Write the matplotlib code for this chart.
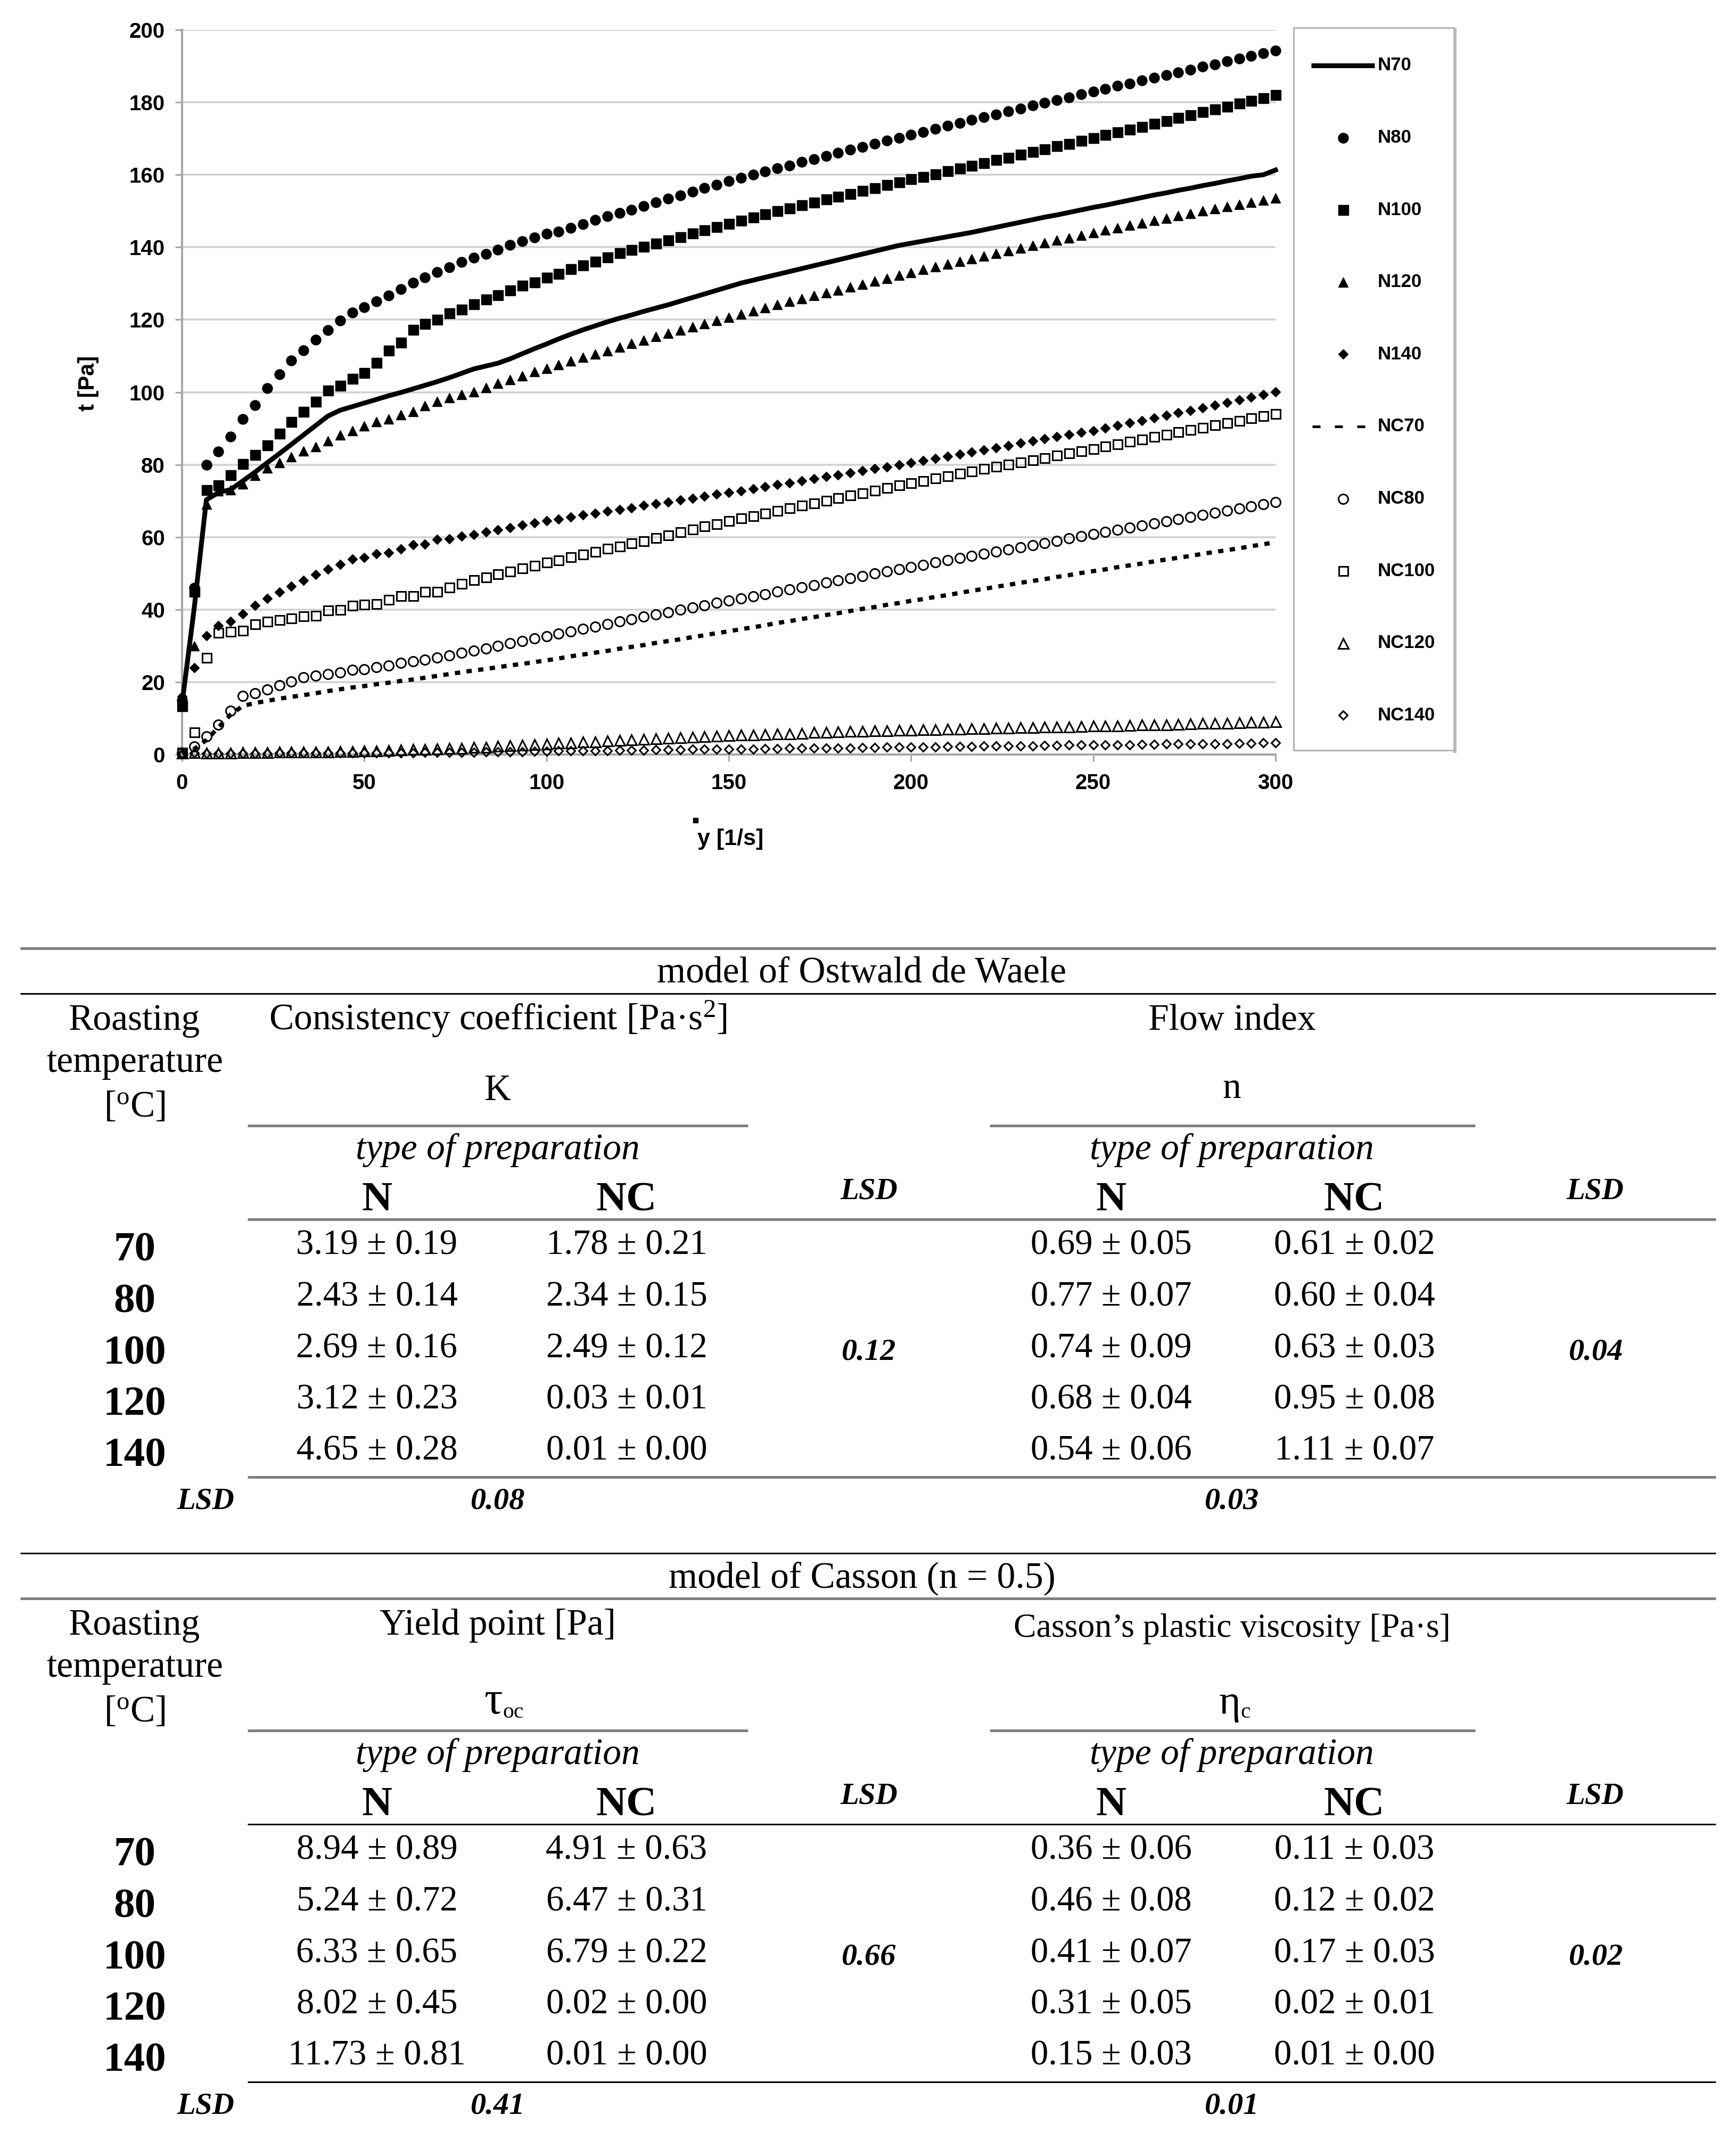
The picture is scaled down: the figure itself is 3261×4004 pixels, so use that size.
import numpy as np
import matplotlib
matplotlib.use("Agg")
import matplotlib.pyplot as plt
from matplotlib.patches import Rectangle

W, H = 3262, 4004
DPI = 100


def pt(px):
    # pixel size -> points at this dpi
    return px * 72.0 / DPI


plt.rcParams['font.family'] = ['Liberation Sans', 'DejaVu Sans']
plt.rcParams['mathtext.fontset'] = 'custom'
plt.rcParams['mathtext.rm'] = 'Liberation Serif'
plt.rcParams['mathtext.it'] = 'Liberation Serif:italic'
plt.rcParams['mathtext.bf'] = 'Liberation Serif:bold'

# ---------------- chart data ----------------
shear_rate = np.linspace(0, 300, 91)

N70 = [14.0, 40.4, 70.3, 72.3, 73.1, 75.5, 77.9, 80.5, 83.0, 85.6,
       88.2, 90.8, 93.4, 95.0, 96.0, 97.0, 98.0, 99.0, 99.9, 100.9,
       101.9, 102.9, 104.0, 105.2, 106.4, 107.2, 108.0, 109.2, 110.6, 112.0,
       113.3, 114.7, 116.0, 117.2, 118.3, 119.4, 120.4, 121.3, 122.3, 123.2,
       124.1, 125.1, 126.1, 127.1, 128.1, 129.1, 130.1, 130.9, 131.7, 132.5,
       133.3, 134.1, 134.9, 135.7, 136.5, 137.3, 138.1, 138.9, 139.7, 140.5,
       141.1, 141.7, 142.3, 142.9, 143.5, 144.1, 144.8, 145.5, 146.2, 146.9,
       147.6, 148.3, 148.9, 149.6, 150.3, 151.0, 151.6, 152.3, 153.0, 153.7,
       154.4, 155.0, 155.7, 156.3, 157.0, 157.6, 158.3, 158.9, 159.6, 160.0,
       161.3]
N80 = [15.0, 46.0, 80.0, 83.6, 87.8, 92.6, 96.4, 101.1, 104.9, 108.7,
       111.5, 114.5, 117.1, 119.7, 122.0, 123.4, 125.1, 126.6, 128.5, 130.2,
       131.6, 133.2, 134.4, 135.9, 137.1, 138.2, 139.3, 140.6, 141.6, 142.7,
       143.7, 144.3, 145.3, 146.4, 147.5, 148.5, 149.4, 150.4, 151.4, 152.4,
       153.4, 154.3, 155.3, 156.3, 157.2, 158.2, 159.1, 160.0, 160.9, 161.8,
       162.6, 163.5, 164.3, 165.2, 166.0, 166.9, 167.7, 168.5, 169.4, 170.2,
       171.0, 171.8, 172.7, 173.5, 174.3, 175.1, 175.9, 176.7, 177.5, 178.3,
       179.1, 179.8, 180.6, 181.4, 182.2, 182.9, 183.7, 184.5, 185.2, 186.0,
       186.8, 187.5, 188.3, 189.0, 189.8, 190.5, 191.3, 192.0, 192.8, 193.5,
       194.3]
N100 = [13.4, 45.0, 73.0, 74.3, 77.2, 80.2, 82.8, 85.4, 88.6, 91.8,
        94.6, 97.4, 100.5, 101.9, 103.7, 105.3, 108.1, 111.5, 113.8, 117.3,
        118.9, 120.1, 121.8, 122.9, 124.3, 125.6, 126.8, 128.1, 129.4, 130.4,
        131.6, 132.7, 134.0, 135.0, 136.1, 137.2, 138.4, 139.3, 140.2, 141.1,
        142.0, 142.9, 143.8, 144.7, 145.6, 146.5, 147.4, 148.3, 149.1, 150.0,
        150.8, 151.6, 152.4, 153.2, 154.0, 154.8, 155.6, 156.4, 157.2, 158.0,
        158.8, 159.5, 160.2, 161.0, 161.8, 162.5, 163.3, 164.1, 164.8, 165.6,
        166.4, 167.1, 167.9, 168.6, 169.4, 170.2, 171.0, 171.8, 172.5, 173.3,
        174.1, 174.9, 175.7, 176.5, 177.3, 178.1, 178.9, 179.7, 180.5, 181.2,
        182.0]
N120 = [14.5, 30.0, 69.0, 72.7, 73.1, 74.6, 77.0, 79.0, 80.6, 82.2,
        83.8, 85.0, 86.6, 88.2, 89.4, 90.6, 91.8, 92.6, 93.8, 94.7,
        96.2, 97.4, 98.4, 99.4, 100.1, 101.2, 102.4, 103.5, 104.5, 105.6,
        106.6, 107.6, 108.6, 109.6, 110.5, 111.4, 112.4, 113.4, 114.4, 115.3,
        116.2, 117.1, 118.0, 118.9, 119.8, 120.6, 121.5, 122.4, 123.3, 124.2,
        125.0, 125.8, 126.6, 127.4, 128.2, 129.0, 129.8, 130.6, 131.4, 132.2,
        133.0, 133.8, 134.6, 135.4, 136.1, 136.8, 137.6, 138.3, 139.0, 139.8,
        140.5, 141.2, 141.9, 142.6, 143.3, 144.0, 144.7, 145.3, 146.0, 146.7,
        147.4, 148.0, 148.7, 149.3, 150.0, 150.6, 151.2, 151.8, 152.4, 153.0,
        153.6]
N140 = [16.0, 24.0, 32.8, 35.6, 36.8, 38.8, 41.2, 43.0, 44.8, 46.4,
        48.0, 49.6, 51.2, 52.4, 53.9, 54.3, 55.4, 55.7, 56.7, 57.9,
        58.1, 59.4, 59.5, 60.3, 60.7, 61.4, 62.0, 62.6, 63.3, 63.9,
        64.5, 65.0, 65.5, 66.1, 66.6, 67.1, 67.6, 68.1, 68.7, 69.2,
        69.7, 70.2, 70.7, 71.2, 71.8, 72.3, 72.8, 73.4, 73.9, 74.5,
        75.0, 75.6, 76.1, 76.7, 77.2, 77.8, 78.3, 78.9, 79.4, 80.0,
        80.5, 81.1, 81.7, 82.3, 82.9, 83.5, 84.1, 84.7, 85.3, 85.9,
        86.5, 87.1, 87.7, 88.3, 88.9, 89.4, 90.1, 90.8, 91.5, 92.2,
        92.9, 93.6, 94.3, 95.0, 95.7, 96.4, 97.1, 97.8, 98.6, 99.3,
        100.1]
NC70 = [0.3, 1.5, 4.0, 7.5, 11.0, 13.4, 14.2, 14.8, 15.4, 15.9,
        16.4, 16.9, 17.5, 18.0, 18.5, 18.9, 19.4, 19.8, 20.3, 20.7,
        21.2, 21.7, 22.2, 22.7, 23.2, 23.6, 24.1, 24.6, 25.0, 25.5,
        26.0, 26.5, 27.1, 27.6, 28.1, 28.6, 29.2, 29.7, 30.2, 30.8,
        31.3, 31.8, 32.4, 32.9, 33.5, 34.0, 34.6, 35.1, 35.7, 36.3,
        36.8, 37.4, 37.9, 38.5, 39.0, 39.6, 40.2, 40.7, 41.3, 41.8,
        42.4, 42.9, 43.5, 44.0, 44.6, 45.2, 45.7, 46.3, 46.8, 47.4,
        47.9, 48.4, 49.0, 49.5, 50.1, 50.6, 51.1, 51.7, 52.2, 52.7,
        53.3, 53.8, 54.3, 54.8, 55.4, 55.9, 56.4, 56.9, 57.5, 58.0,
        58.6]
NC80 = [0.5, 2.2, 5.0, 8.2, 12.1, 16.1, 16.9, 17.9, 19.1, 20.1,
        21.3, 21.7, 22.2, 22.7, 23.3, 23.5, 24.1, 24.6, 25.3, 25.7,
        26.1, 26.7, 27.3, 28.1, 28.6, 29.3, 30.0, 30.7, 31.3, 32.0,
        32.6, 33.3, 34.0, 34.7, 35.3, 36.0, 36.7, 37.3, 38.0, 38.7,
        39.3, 40.0, 40.6, 41.2, 41.9, 42.5, 43.1, 43.7, 44.3, 45.0,
        45.6, 46.2, 46.8, 47.4, 48.1, 48.7, 49.3, 49.9, 50.5, 51.1,
        51.7, 52.3, 53.0, 53.6, 54.2, 54.8, 55.4, 56.0, 56.6, 57.2,
        57.8, 58.4, 59.0, 59.6, 60.2, 60.8, 61.4, 62.0, 62.6, 63.2,
        63.8, 64.4, 65.0, 65.5, 66.1, 66.7, 67.3, 67.9, 68.5, 69.0,
        69.6]
NC100 = [0.6, 6.2, 26.7, 33.6, 34.0, 34.2, 36.0, 36.8, 37.2, 37.6,
         38.2, 38.4, 39.8, 40.0, 41.2, 41.4, 41.6, 42.8, 43.8, 43.8,
         45.0, 45.0, 46.1, 47.2, 48.2, 49.0, 49.8, 50.6, 51.4, 52.2,
         53.0, 53.7, 54.5, 55.3, 56.0, 56.8, 57.5, 58.3, 59.0, 59.8,
         60.6, 61.4, 62.2, 63.0, 63.7, 64.5, 65.2, 65.9, 66.6, 67.3,
         68.0, 68.7, 69.4, 70.1, 70.8, 71.5, 72.2, 72.9, 73.6, 74.3,
         75.0, 75.6, 76.3, 76.9, 77.6, 78.2, 78.9, 79.5, 80.1, 80.7,
         81.3, 81.9, 82.6, 83.2, 83.8, 84.4, 85.1, 85.7, 86.4, 87.0,
         87.7, 88.3, 89.0, 89.6, 90.3, 90.9, 91.6, 92.2, 92.9, 93.5,
         94.1]
NC120 = [0.5, 0.6, 0.5, 0.5, 0.5, 0.6, 0.6, 0.6, 0.7, 0.7,
         0.7, 0.8, 0.8, 0.9, 0.9, 1.0, 1.1, 1.2, 1.3, 1.4,
         1.5, 1.6, 1.7, 1.8, 2.0, 2.1, 2.3, 2.5, 2.6, 2.8,
         3.0, 3.2, 3.3, 3.5, 3.6, 3.8, 4.0, 4.1, 4.3, 4.4,
         4.6, 4.7, 4.9, 5.0, 5.1, 5.3, 5.4, 5.5, 5.6, 5.7,
         5.8, 5.9, 6.1, 6.2, 6.3, 6.4, 6.5, 6.6, 6.6, 6.7,
         6.8, 6.9, 6.9, 7.0, 7.1, 7.2, 7.2, 7.3, 7.4, 7.5,
         7.5, 7.6, 7.7, 7.7, 7.8, 7.9, 8.0, 8.0, 8.1, 8.2,
         8.2, 8.3, 8.4, 8.5, 8.6, 8.6, 8.7, 8.8, 8.9, 9.0,
         9.1]
NC140 = [0.3, 0.4, 0.3, 0.3, 0.3, 0.3, 0.3, 0.3, 0.4, 0.4,
         0.4, 0.4, 0.4, 0.4, 0.5, 0.5, 0.5, 0.5, 0.5, 0.5,
         0.6, 0.6, 0.6, 0.6, 0.6, 0.7, 0.7, 0.8, 0.8, 0.9,
         0.9, 1.0, 1.0, 1.0, 1.1, 1.1, 1.2, 1.2, 1.2, 1.3,
         1.3, 1.3, 1.4, 1.4, 1.4, 1.5, 1.5, 1.5, 1.6, 1.6,
         1.7, 1.7, 1.7, 1.8, 1.8, 1.8, 1.9, 1.9, 2.0, 2.0,
         2.0, 2.1, 2.1, 2.2, 2.2, 2.2, 2.3, 2.3, 2.4, 2.4,
         2.4, 2.5, 2.5, 2.6, 2.6, 2.6, 2.7, 2.7, 2.7, 2.8,
         2.8, 2.9, 2.9, 2.9, 3.0, 3.0, 3.0, 3.1, 3.1, 3.2,
         3.2]

y_ticks = [0, 20, 40, 60, 80, 100, 120, 140, 160, 180, 200]
x_ticks = [0, 50, 100, 150, 200, 250, 300]

# ---------------- table data ----------------
temps = ["70", "80", "100", "120", "140"]

K_N = [3.19, 2.43, 2.69, 3.12, 4.65]
K_N_sd = [0.19, 0.14, 0.16, 0.23, 0.28]
K_NC = [1.78, 2.34, 2.49, 0.03, 0.01]
K_NC_sd = [0.21, 0.15, 0.12, 0.01, 0.00]
n_N = [0.69, 0.77, 0.74, 0.68, 0.54]
n_N_sd = [0.05, 0.07, 0.09, 0.04, 0.06]
n_NC = [0.61, 0.60, 0.63, 0.95, 1.11]
n_NC_sd = [0.02, 0.04, 0.03, 0.08, 0.07]
lsd_ostwald = {"K_col": 0.12, "n_col": 0.04, "K_row": 0.08, "n_row": 0.03}

tau_N = [8.94, 5.24, 6.33, 8.02, 11.73]
tau_N_sd = [0.89, 0.72, 0.65, 0.45, 0.81]
tau_NC = [4.91, 6.47, 6.79, 0.02, 0.01]
tau_NC_sd = [0.63, 0.31, 0.22, 0.00, 0.00]
eta_N = [0.36, 0.46, 0.41, 0.31, 0.15]
eta_N_sd = [0.06, 0.08, 0.07, 0.05, 0.03]
eta_NC = [0.11, 0.12, 0.17, 0.02, 0.01]
eta_NC_sd = [0.03, 0.02, 0.03, 0.01, 0.00]
lsd_casson = {"K_col": 0.66, "n_col": 0.02, "K_row": 0.41, "n_row": 0.01}

# ---------------- series styles ----------------
line_w = pt(9)
styles = {
    "N70": dict(ls='-', lw=line_w, marker=None),
    "N80": dict(ls='none', marker='o', ms=pt(19), mfc='k', mec='k'),
    "N100": dict(ls='none', marker='s', ms=pt(19), mfc='k', mec='k'),
    "N120": dict(ls='none', marker='^', ms=pt(18), mfc='k', mec='k'),
    "N140": dict(ls='none', marker='D', ms=pt(13), mfc='k', mec='k'),
    "NC70": dict(ls=(0, (1.25, 1.5)), lw=pt(8), marker=None, dash_capstyle='butt'),
    "NC80": dict(ls='none', marker='o', ms=pt(18), mfc='none', mec='k', mew=pt(3)),
    "NC100": dict(ls='none', marker='s', ms=pt(17), mfc='none', mec='k', mew=pt(3)),
    "NC120": dict(ls='none', marker='^', ms=pt(19), mfc='none', mec='k', mew=pt(3)),
    "NC140": dict(ls='none', marker='D', ms=pt(12), mfc='none', mec='k', mew=pt(3)),
}
series = [("N70", N70), ("N80", N80), ("N100", N100), ("N120", N120), ("N140", N140),
          ("NC70", NC70), ("NC80", NC80), ("NC100", NC100), ("NC120", NC120), ("NC140", NC140)]

fig = plt.figure(figsize=(W / DPI, H / DPI), dpi=DPI)
fig.patch.set_facecolor('white')

canvas = fig.add_axes([0, 0, 1, 1])
canvas.set_xlim(0, W)
canvas.set_ylim(H, 0)
canvas.axis('off')
canvas.patch.set_visible(False)

# ---------------- chart ----------------
ax = fig.add_axes([342 / W, 1 - 1417 / H, (2396 - 342) / W, (1417 - 56) / H])
ax.set_xlim(0, 300)
ax.set_ylim(0, 200)
for s in ['top', 'right']:
    ax.spines[s].set_visible(False)
for s in ['left', 'bottom']:
    ax.spines[s].set_color('#a6a6a6')
    ax.spines[s].set_linewidth(pt(4))
ax.set_yticks(y_ticks)
ax.set_xticks(x_ticks)
ax.tick_params(axis='both', direction='out', length=pt(13), width=pt(3),
               color='#a6a6a6', labelsize=29)
ax.tick_params(axis='y', pad=pt(19))
ax.tick_params(axis='x', pad=pt(22))
for lab in ax.get_xticklabels() + ax.get_yticklabels():
    lab.set_fontweight('bold')
ax.yaxis.grid(True, color='#d0d0d0', linewidth=pt(3.5))
ax.set_axisbelow(True)

for z, (name, vals) in enumerate(series):
    ax.plot(shear_rate, vals, color='k', clip_on=False, zorder=3 + z, **styles[name])

canvas.text(166, 720, "t [Pa]", rotation=90, ha='center', va='center',
            fontsize=30, fontweight='bold')
canvas.text(1372, 1576, "y [1/s]", ha='center', va='center', fontsize=31, fontweight='bold')
canvas.plot([1306], [1540], marker='s', ms=pt(9), color='k', ls='none')

# legend box
canvas.add_patch(Rectangle((2430, 52), 301, 1357, facecolor='white',
                           edgecolor='#b4b4b4', lw=pt(3), zorder=1))
canvas.plot([2733, 2733], [56, 1411], color='#b8b8b8', lw=pt(6), zorder=1)
for k, (name, vals) in enumerate(series):
    ly = 123 + k * 135.6
    st = dict(styles[name])
    if name == "N70":
        canvas.plot([2463, 2582], [ly, ly], color='k', lw=line_w, solid_capstyle='butt', zorder=2)
    elif name == "NC70":
        canvas.plot([2465, 2564], [ly, ly], color='k', lw=pt(5), dashes=(3.0, 5.4),
                    dash_capstyle='butt', zorder=2)
    else:
        st.pop('ls')
        canvas.plot([2523], [ly], color='k', ls='none', zorder=2, **st)
    canvas.text(2588, ly, name, ha='left', va='center', fontsize=25, fontweight='bold', zorder=2)

# ---------------- tables ----------------
SERIF = ['Liberation Serif', 'DejaVu Serif']


def put(x, y, s, size, weight='normal', style='normal', ha='center'):
    canvas.text(x, y, s, fontsize=size, fontweight=weight, fontstyle=style,
                ha=ha, va='baseline', family=SERIF)


def hline(y, x0, x1, dark):
    if dark:
        canvas.plot([x0, x1], [y, y], color='black', lw=pt(3), solid_capstyle='butt')
    else:
        canvas.plot([x0, x1], [y, y], color='#7f7f7f', lw=pt(5), solid_capstyle='butt')


def fmt(m, s):
    return f"{m:.2f} \u00b1 {s:.2f}"


def draw_table(dy, title, head_left, head_right, head_right_size, sym_left, sym_right,
               colA, colA_sd, colB, colB_sd, colC, colC_sd, colD, colD_sd, lsd,
               dark_lines):
    top_dark, second_dark, header_dark, bottom_dark = dark_lines
    hline(1781 + dy, 38, 3223, top_dark)
    put(1619, 1845 + dy, title, 50)
    hline(1866 + dy, 38, 3223, second_dark)
    put(253, 1934 + dy, "Roasting", 50)
    put(253, 2013 + dy, "temperature", 50)
    put(253, 2097 + dy, "[$^{\\mathrm{o}}$C]", 50)
    put(935, 1934 + dy, head_left, 50)
    put(2314, 1934 + dy + (4 if head_right_size < 50 else 0), head_right, head_right_size)
    sym_left(2064 + dy)
    sym_right(2064 + dy)
    hline(2114 + dy, 465, 1405, False)
    hline(2114 + dy, 1859, 2771, False)
    for xc in (935, 2314):
        put(xc, 2177 + dy, "type of preparation", 50, style='italic')
    for xc, lab in ((708, "N"), (1177, "NC"), (2087, "N"), (2544, "NC")):
        put(xc, 2273 + dy, lab, 57, weight='bold')
    put(1632, 2251 + dy, "LSD", 41, weight='bold', style='italic')
    put(2996, 2251 + dy, "LSD", 41, weight='bold', style='italic')
    hline(2290 + dy, 465, 3223, header_dark)
    for r in range(5):
        yb = 2356 + r * 96.5 + dy
        put(253, yb + 12, temps[r], 57, weight='bold')
        put(708, yb, fmt(colA[r], colA_sd[r]), 48)
        put(1177, yb, fmt(colB[r], colB_sd[r]), 48)
        put(2087, yb, fmt(colC[r], colC_sd[r]), 48)
        put(2544, yb, fmt(colD[r], colD_sd[r]), 48)
    put(1632, 2553 + dy, f"{lsd['K_col']:.2f}", 42, weight='bold', style='italic')
    put(2998, 2553 + dy, f"{lsd['n_col']:.2f}", 42, weight='bold', style='italic')
    hline(2774 + dy, 465, 3223, bottom_dark)
    put(386, 2833 + dy, "LSD", 41, weight='bold', style='italic')
    put(935, 2833 + dy, f"{lsd['K_row']:.2f}", 42, weight='bold', style='italic')
    put(2314, 2833 + dy, f"{lsd['n_row']:.2f}", 42, weight='bold', style='italic')


def sym_K(y):
    put(935, y + 2, "K", 50)


def sym_n(y):
    put(2314, y - 2, "n", 50)


def sym_tau(y):
    put(944, y + 18, "\u03c4", 62, ha='right')
    put(944, y + 26, "oc", 30, ha='left')


def sym_eta(y):
    put(2330, y + 18, "\u03b7", 56, ha='right')
    put(2330, y + 26, "c", 30, ha='left')


draw_table(0, "model of Ostwald de Waele", "Consistency coefficient [Pa\u00b7s$^2$]",
           "Flow index", 50, sym_K, sym_n,
           K_N, K_N_sd, K_NC, K_NC_sd, n_N, n_N_sd, n_NC, n_NC_sd, lsd_ostwald,
           (False, True, False, False))
draw_table(1136, "model of Casson (n = 0.5)", "Yield point [Pa]",
           "Casson\u2019s plastic viscosity [Pa\u00b7s]", 46, sym_tau, sym_eta,
           tau_N, tau_N_sd, tau_NC, tau_NC_sd, eta_N, eta_N_sd, eta_NC, eta_NC_sd, lsd_casson,
           (True, False, True, True))

fig.savefig("out.png", dpi=DPI, facecolor='white')
